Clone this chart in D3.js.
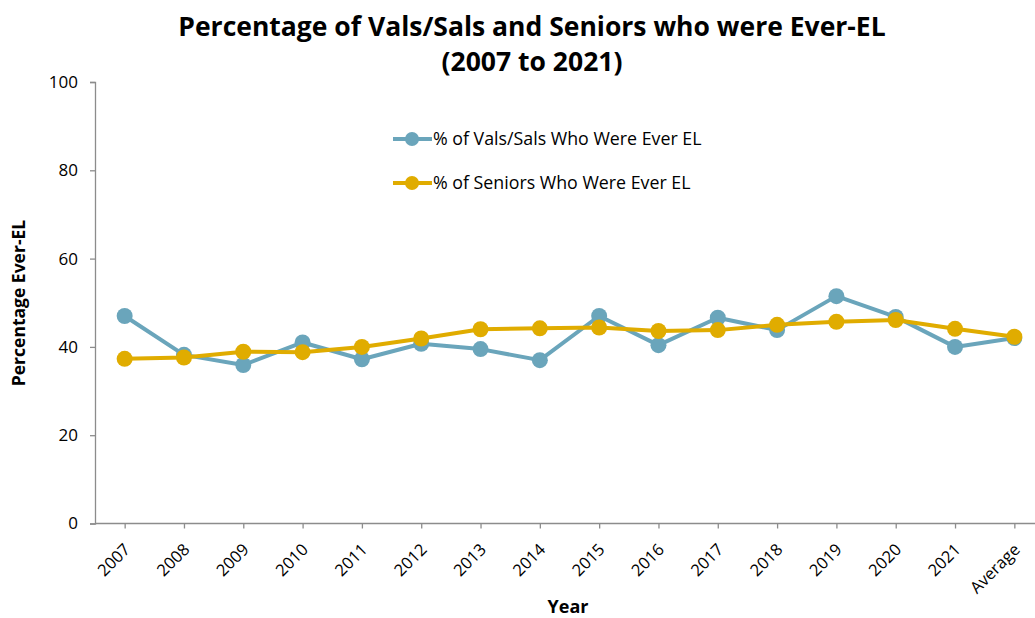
<!doctype html>
<html>
<head>
<style>
  body { margin: 0; background: #fff; }
  svg { display: block; font-family: "Open Sans", "Noto Sans", sans-serif; }
</style>
</head>
<body>
<svg id="chart" width="1035" height="618"></svg>
<script src="https://d3js.org/d3.v7.min.js"></script>
<script>
var years = ["2007", "2008", "2009", "2010", "2011", "2012", "2013", "2014", "2015",
             "2016", "2017", "2018", "2019", "2020", "2021", "Average"];
var valsSals = [47.0, 38.2, 35.9, 41.0, 37.2, 40.7, 39.5, 37.0, 47.0,
                40.4, 46.6, 43.8, 51.5, 46.8, 40.0, 42.0];
var seniors = [37.3, 37.6, 38.9, 38.8, 40.0, 41.9, 44.0, 44.2, 44.4,
               43.6, 43.8, 45.0, 45.7, 46.1, 44.1, 42.3];
var yTicks = [0, 20, 40, 60, 80, 100];
var seriesNames = ["% of Vals/Sals Who Were Ever EL", "% of Seniors Who Were Ever EL"];
var colors = ["#6aa5bb", "#e0ac00"];

var svg = d3.select("#chart");
var plotLeft = 95, plotRight = 1044, plotTop = 82, plotBottom = 523.5;

var x = d3.scalePoint().domain(years).range([plotLeft, plotRight]).padding(0.5);
var y = d3.scaleLinear().domain([0, 100]).range([plotBottom, plotTop]);

// title
var title = svg.append("text")
    .attr("text-anchor", "middle")
    .attr("font-weight", "bold").attr("font-size", 26.5).attr("fill", "#000");
title.append("tspan").attr("x", 532).attr("y", 36).text("Percentage of Vals/Sals and Seniors who were Ever-EL");
title.append("tspan").attr("x", 532).attr("y", 71).text("(2007 to 2021)");

// axes
var yAxis = svg.append("g")
    .attr("transform", "translate(" + plotLeft + ",0)")
    .call(d3.axisLeft(y).tickValues(yTicks).tickSize(5).tickPadding(12));
var xAxis = svg.append("g")
    .attr("transform", "translate(0," + plotBottom + ")")
    .call(d3.axisBottom(x).tickSize(5));
xAxis.select(".domain").attr("d", "M" + plotLeft + ",0H1035");
[yAxis, xAxis].forEach(function(a) {
  a.selectAll(".domain, line").attr("stroke", "#8c8c8c").attr("stroke-width", 1.3);
});
yAxis.selectAll("text").attr("font-size", 17).attr("fill", "#000")
    .attr("font-family", "'Open Sans', sans-serif");
xAxis.selectAll("text")
    .attr("font-size", 16.5).attr("fill", "#000")
    .attr("font-family", "'Open Sans', sans-serif")
    .attr("text-anchor", "end")
    .attr("x", 0).attr("y", 0).attr("dx", 0).attr("dy", "0.35em")
    .attr("transform", "translate(2,23) rotate(-45)");

// axis titles
svg.append("text")
    .attr("transform", "translate(25,303) rotate(-90)")
    .attr("text-anchor", "middle").attr("font-weight", "bold").attr("font-size", 17.5)
    .text("Percentage Ever-EL");
svg.append("text")
    .attr("x", 568).attr("y", 613)
    .attr("text-anchor", "middle").attr("font-weight", "bold").attr("font-size", 18)
    .text("Year");

// series
var series = [valsSals, seniors];
var line = d3.line().x(function(d, i) { return x(years[i]); }).y(function(d) { return y(d); });

series.forEach(function(vals, k) {
  var g = svg.append("g");
  g.append("path").datum(vals)
      .attr("d", line)
      .attr("fill", "none")
      .attr("stroke", colors[k])
      .attr("stroke-width", 4)
      .attr("stroke-linejoin", "round");
  g.selectAll("circle").data(vals).enter().append("circle")
      .attr("cx", function(d, i) { return x(years[i]); })
      .attr("cy", function(d) { return y(d); })
      .attr("r", 8)
      .attr("fill", colors[k]);
});

// legend
var legend = svg.append("g");
seriesNames.forEach(function(name, k) {
  var ly = 139 + k * 44;
  legend.append("line").attr("x1", 393).attr("x2", 432).attr("y1", ly).attr("y2", ly)
      .attr("stroke", colors[k]).attr("stroke-width", 4);
  legend.append("circle").attr("cx", 412).attr("cy", ly).attr("r", 7).attr("fill", colors[k]);
  legend.append("text").attr("x", 433).attr("y", ly).attr("dy", "0.35em")
      .attr("font-size", 17.8).text(name);
});
</script>
</body>
</html>
